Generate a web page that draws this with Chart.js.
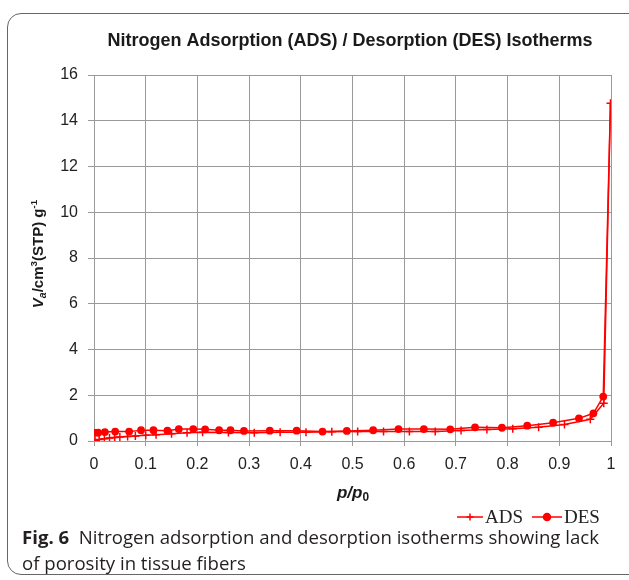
<!DOCTYPE html>
<html>
<head>
<meta charset="utf-8">
<script src="https://cdn.jsdelivr.net/npm/chart.js@4"></script>
<style>
  html, body { margin: 0; padding: 0; background: #fff; width: 629px; height: 580px; overflow: hidden; }
  #frame { position: absolute; left: 7px; top: 13px; width: 660px; height: 562px; border: 1.3px solid #666; border-radius: 14px; box-sizing: border-box; }
  #wrap { position: absolute; left: 0; top: 0; width: 629px; height: 530px; }
  #caption { position: absolute; left: 22px; top: 524px; width: 582px; font-family: "Open Sans", sans-serif; font-size: 18.6px; line-height: 26px; color: #231f20; }
  #caption b { font-weight: 700; }
</style>
</head>
<body>
<div id="frame"></div>
<div id="wrap"><canvas id="c" width="629" height="530"></canvas></div>
<div id="caption"><b>Fig. 6</b>&nbsp; Nitrogen adsorption and desorption isotherms showing lack of porosity in tissue fibers</div>
<script>
// Adsorption branch (p/p0, volume adsorbed)
const adsP = [0.002, 0.01, 0.02, 0.03, 0.04, 0.05, 0.065, 0.08, 0.10, 0.12, 0.15, 0.18, 0.21, 0.26,
              0.31, 0.36, 0.41, 0.46, 0.51, 0.56, 0.61, 0.66, 0.71, 0.76, 0.81, 0.86, 0.91, 0.96, 0.986, 0.999];
const adsV = [0.03, 0.07, 0.10, 0.13, 0.15, 0.17, 0.20, 0.22, 0.25, 0.27, 0.32, 0.36, 0.38, 0.37,
              0.36, 0.38, 0.38, 0.40, 0.41, 0.41, 0.42, 0.42, 0.46, 0.50, 0.54, 0.60, 0.72, 0.95, 1.65, 14.76];

// Desorption branch, from saturation downwards
const desP = [0.999, 0.985, 0.966, 0.938, 0.888, 0.838, 0.789, 0.737, 0.689, 0.638, 0.589, 0.540, 0.489,
              0.442, 0.392, 0.340, 0.290, 0.264, 0.242, 0.215, 0.192, 0.164, 0.142, 0.115, 0.091, 0.068,
              0.041, 0.021, 0.008, 0.0];
const desV = [14.76, 1.94, 1.21, 0.99, 0.80, 0.67, 0.58, 0.60, 0.51, 0.52, 0.52, 0.47, 0.44,
              0.41, 0.45, 0.45, 0.44, 0.47, 0.47, 0.51, 0.52, 0.52, 0.45, 0.47, 0.47, 0.41,
              0.41, 0.39, 0.36, 0.36];

const seriesNames = ['ADS', 'DES'];
const xTickLabels = ['0', '0.1', '0.2', '0.3', '0.4', '0.5', '0.6', '0.7', '0.8', '0.9', '1'];
const yTickLabels = ['0', '2', '4', '6', '8', '10', '12', '14', '16'];
const chartTitle = 'Nitrogen Adsorption (ADS) / Desorption (DES) Isotherms';

const RED = '#ff0000';
const SANS = '"Liberation Sans", Arial, sans-serif';
const TEXT = '#1a1a1a';
const GRID = '#9a9a9a';

function toPoints(xs, ys) { return xs.map((x, i) => ({ x: x, y: ys[i] })); }

// draws a run of text pieces (italic / sub / superscript) centred on (x, y)
function drawRich(ctx, segs, x, y, size, rotate) {
  let total = 0;
  const m = segs.map(s => {
    const fs = size * (s.scale || 1);
    const f = (s.italic ? 'italic ' : '') + 'bold ' + fs + 'px ' + SANS;
    ctx.font = f;
    const w = ctx.measureText(s.text).width;
    total += w;
    return { f: f, w: w, dy: (s.dy || 0) * size };
  });
  ctx.save();
  ctx.translate(x, y);
  if (rotate) ctx.rotate(-Math.PI / 2);
  ctx.fillStyle = TEXT;
  ctx.textBaseline = 'middle';
  ctx.textAlign = 'left';
  let cx = -total / 2;
  segs.forEach((s, i) => { ctx.font = m[i].f; ctx.fillText(s.text, cx, m[i].dy); cx += m[i].w; });
  ctx.restore();
}

const decorations = {
  id: 'decorations',
  afterDraw(chart) {
    const ctx = chart.ctx;
    const area = chart.chartArea;

    // chart title
    ctx.save();
    ctx.font = 'bold 18px ' + SANS;
    ctx.fillStyle = TEXT;
    ctx.textAlign = 'center';
    ctx.textBaseline = 'middle';
    ctx.fillText(chartTitle, 350, 41);
    ctx.restore();

    // axis titles
    drawRich(ctx, [
      { text: 'V', italic: true },
      { text: 'a', italic: true, scale: 0.7, dy: 0.28 },
      { text: '/cm' },
      { text: '3', scale: 0.65, dy: -0.3 },
      { text: '(STP) g' },
      { text: '-1', scale: 0.65, dy: -0.3 }
    ], 39, (area.top + area.bottom) / 2 - 4, 15, true);

    drawRich(ctx, [
      { text: 'p', italic: true },
      { text: '/', italic: true },
      { text: 'p', italic: true },
      { text: '0', scale: 0.7, dy: 0.28 }
    ], 353, 493, 17, false);

    // legend: line with marker, then the series name
    const ly = 517;
    const items = [{ x0: 457, x1: 483 }, { x0: 532, x1: 562 }];
    chart.data.datasets.forEach((ds, i) => {
      const it = items[i];
      ctx.save();
      ctx.strokeStyle = ds.borderColor;
      ctx.fillStyle = ds.backgroundColor;
      ctx.lineWidth = 1.5;
      ctx.beginPath(); ctx.moveTo(it.x0, ly); ctx.lineTo(it.x1, ly); ctx.stroke();
      Chart.helpers.drawPoint(ctx, {
        pointStyle: ds.pointStyle, radius: 3.5, borderWidth: 1.5, rotation: 0
      }, (it.x0 + it.x1) / 2, ly);
      ctx.fillStyle = '#222';
      ctx.font = '19px "Liberation Serif", "Times New Roman", serif';
      ctx.textAlign = 'left';
      ctx.textBaseline = 'middle';
      ctx.fillText(ds.label, it.x1 + 2, ly + 1);
      ctx.restore();
    });
  }
};

new Chart(document.getElementById('c'), {
  type: 'scatter',
  data: {
    datasets: [
      {
        label: seriesNames[0],
        data: toPoints(adsP, adsV),
        showLine: true,
        borderColor: RED,
        backgroundColor: RED,
        borderWidth: 1.5,
        pointStyle: 'cross',
        pointRadius: 4,
        pointBorderWidth: 1.5,
        pointHoverRadius: 4
      },
      {
        label: seriesNames[1],
        data: toPoints(desP, desV),
        showLine: true,
        borderColor: RED,
        backgroundColor: RED,
        borderWidth: 1.5,
        pointStyle: 'circle',
        pointRadius: desP.map((p, i) => i === 0 ? 0 : 3.9),
        pointBorderWidth: 0,
        pointHoverRadius: 3.9
      }
    ]
  },
  options: {
    responsive: false,
    animation: false,
    events: [],
    layout: { padding: { left: 0, right: 18, top: 75, bottom: 59 } },
    plugins: { legend: { display: false }, title: { display: false }, tooltip: { enabled: false } },
    scales: {
      x: {
        type: 'linear', min: 0, max: 1,
        afterFit: s => { s.height = 30; },
        ticks: {
          stepSize: 0.1, padding: 9, color: '#222',
          font: { family: SANS, size: 16 },
          callback: (v, i) => xTickLabels[i]
        },
        grid: { color: GRID, lineWidth: 1, tickLength: 5, tickColor: GRID },
        border: { color: GRID, width: 1 }
      },
      y: {
        type: 'linear', min: 0, max: 16,
        afterFit: s => { s.width = 94; },
        ticks: {
          stepSize: 2, padding: 10, color: '#222',
          font: { family: SANS, size: 16 },
          callback: (v, i) => yTickLabels[i]
        },
        grid: { color: GRID, lineWidth: 1, tickLength: 6, tickColor: GRID },
        border: { color: GRID, width: 1 }
      }
    }
  },
  plugins: [decorations]
});
</script>
</body>
</html>
